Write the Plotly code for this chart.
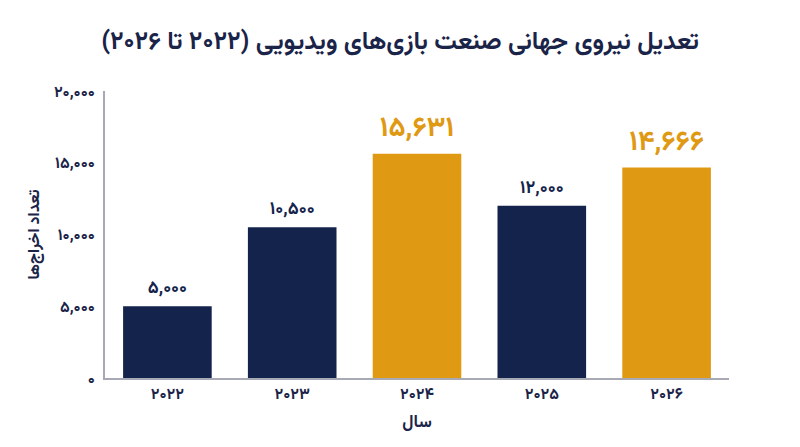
import plotly.graph_objects as go

years = ["۲۰۲۲", "۲۰۲۳", "۲۰۲۴", "۲۰۲۵", "۲۰۲۶"]
layoffs = [5000, 10500, 15631, 12000, 14666]
highlight = [False, False, True, False, True]
bar_labels = ["۵,۰۰۰", "۱۰,۵۰۰", "۱۵,۶۳۱", "۱۲,۰۰۰", "۱۴,۶۶۶"]
y_tickvals = [0, 5000, 10000, 15000, 20000]
y_ticktext = ["۰", "۵,۰۰۰", "۱۰,۰۰۰", "۱۵,۰۰۰", "۲۰,۰۰۰"]

NAVY = "#14234b"
ORANGE = "#e09913"
TEXT = "#1a2448"
FONT = "Vazirmatn, Noto Sans Arabic, DejaVu Sans"

colors = [ORANGE if h else NAVY for h in highlight]
label_sizes = [28 if h else 18 for h in highlight]

fig = go.Figure(go.Bar(
    x=years, y=layoffs,
    marker=dict(color=colors, line=dict(width=0)),
    text=bar_labels, textposition="outside", cliponaxis=False,
    textfont=dict(family=FONT, color=colors, size=label_sizes, weight="bold"),
    hoverinfo="skip",
))

fig.update_layout(
    width=800, height=447,
    margin=dict(l=97, r=79, t=83, b=77),
    paper_bgcolor="white", plot_bgcolor="white",
    bargap=0.29,
    showlegend=False,
    title=dict(
        text="\u200fتعدیل نیروی جهانی صنعت بازی‌های ویدیویی (۲۰۲۲ تا ۲۰۲۶)\u200f",
        x=0.49, xref="container", xanchor="center", y=0.927, yanchor="middle", yref="container",
        font=dict(family=FONT, size=25, color=TEXT, weight="bold"),
    ),
    font=dict(family=FONT, color=TEXT),
)
fig.update_xaxes(
    showline=True, linecolor="#a7a9b4", linewidth=2,
    ticks="", showgrid=False, ticklabelstandoff=0,
    tickfont=dict(family=FONT, size=16, color=TEXT, weight="bold"),
    title=dict(text="سال", font=dict(family=FONT, size=17, color=TEXT, weight="bold"), standoff=8),
)
fig.update_yaxes(
    range=[0, 20000],
    showline=True, linecolor="#a7a9b4", linewidth=2,
    ticks="", showgrid=False, zeroline=False, ticklabelstandoff=5,
    tickvals=y_tickvals, ticktext=y_ticktext,
    tickfont=dict(family=FONT, size=16, color=TEXT, weight="bold"),
    title=dict(text="تعداد اخراج‌ها", font=dict(family=FONT, size=16, color=TEXT, weight="bold"), standoff=10),
)

fig.write_html("out.html")
